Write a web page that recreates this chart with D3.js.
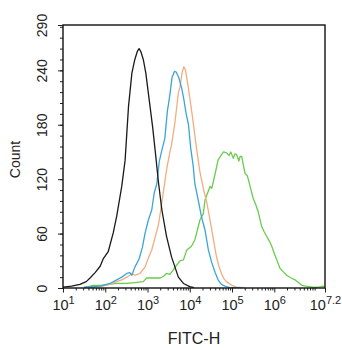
<!DOCTYPE html>
<html>
<head>
<meta charset="utf-8">
<script src="https://cdn.jsdelivr.net/npm/d3@7"></script>
<style>
  body { margin: 0; background: #fff; }
  text { font-family: "Liberation Sans", Arial, sans-serif; fill: #222; }
</style>
</head>
<body>
<script>
"use strict"
// histogram overlays, x = log10 of FITC-H, y = count
const blackSeries = [[1.0,1],[1.2,2],[1.4,4],[1.55,7],[1.64,11],[1.76,17],[1.88,24],[1.95,32],[2.07,40],[2.19,61],[2.27,79],[2.39,112],[2.47,141],[2.55,200],[2.63,237],[2.70,252],[2.76,261],[2.80,264],[2.84,261],[2.90,252],[2.96,237],[3.06,200],[3.12,178],[3.18,152],[3.26,116],[3.34,86],[3.45,57],[3.57,34],[3.65,23],[3.73,12],[3.85,5],[4.0,1.5],[4.1,0.5]];
const cyanSeries = [[1.5,1],[1.64,1.4],[1.88,2],[2.11,5],[2.27,9],[2.39,12],[2.51,16],[2.58,17],[2.63,14],[2.70,23],[2.80,32],[2.88,45],[2.94,60],[3.02,75],[3.10,86],[3.16,105],[3.22,115],[3.28,140],[3.34,152],[3.41,165],[3.47,195],[3.52,210],[3.58,232],[3.64,239],[3.68,238],[3.74,232],[3.81,220],[3.86,208],[3.91,193],[3.97,180],[4.02,155],[4.08,135],[4.12,115],[4.20,97],[4.28,78],[4.36,64],[4.44,42],[4.52,28],[4.60,17],[4.67,9],[4.75,4],[4.83,2],[4.95,0.5],[5.2,0.3]];
const orangeSeries = [[1.6,0.5],[1.88,1.5],[2.11,4],[2.27,7],[2.39,9],[2.51,12],[2.58,14],[2.63,16],[2.70,14],[2.82,16],[2.94,23],[3.02,33],[3.10,42],[3.18,56],[3.26,70],[3.32,88],[3.37,104],[3.45,130],[3.53,150],[3.57,158],[3.65,183],[3.73,215],[3.77,222],[3.82,238],[3.86,244],[3.90,240],[3.97,220],[4.03,200],[4.08,183],[4.16,154],[4.24,128],[4.32,110],[4.40,95],[4.46,80],[4.52,64],[4.58,48],[4.63,35],[4.69,24],[4.75,16],[4.81,10],[4.87,7],[4.99,3],[5.11,1],[5.3,0.5]];
const greenSeries = [[1.5,0.5],[1.72,3],[1.9,3],[2.1,4],[2.27,5],[2.51,5],[2.7,6],[2.90,7],[2.98,11],[3.06,11],[3.22,11],[3.30,11],[3.38,13],[3.45,16],[3.53,15],[3.61,20],[3.65,23],[3.77,30],[3.85,31],[3.93,42],[4.04,46],[4.12,53],[4.24,75],[4.32,82],[4.36,97],[4.48,112],[4.52,110],[4.60,126],[4.67,141],[4.75,147],[4.80,150],[4.87,149],[4.93,146],[4.97,150],[5.03,143],[5.07,148],[5.11,147],[5.16,140],[5.19,145],[5.23,145],[5.27,135],[5.31,126],[5.36,124],[5.39,119],[5.45,108],[5.50,99],[5.56,92],[5.62,84],[5.66,76],[5.70,68],[5.76,62],[5.82,57],[5.88,52],[5.94,46],[6.00,38],[6.06,31],[6.13,22],[6.21,18],[6.29,14],[6.40,11],[6.49,9],[6.57,6],[6.65,3],[6.75,2],[6.84,1.4],[6.95,0.8],[7.05,1],[7.15,2],[7.2,1]];

const xTickExps = ['1', '2', '3', '4', '5', '6', '7.2'];
const yTicks = [0, 60, 120, 180, 240, 290];
const xLabel = 'FITC-H';
const yLabel = 'Count';

const w = 342, h = 350;
const mLeft = 63, mRight = 325, mTop = 25, mBottom = 288;

const svg = d3.select('body').append('svg')
	.attr('width', w)
	.attr('height', h);

const xScale = d3.scaleLog()
	.domain([10, Math.pow(10, 7.2)])
	.range([mLeft, mRight]);
const yScale = d3.scaleLinear()
	.domain([0, 290])
	.range([mBottom, mTop]);

svg.append('clipPath').attr('id', 'plot')
	.append('rect')
	.attr('x', mLeft).attr('y', mTop)
	.attr('width', mRight - mLeft).attr('height', mBottom - mTop);

const line = d3.line()
	.x(d => xScale(Math.pow(10, d[0])))
	.y(d => yScale(d[1]));

const series = [
	[greenSeries, '#6acb4e'],
	[orangeSeries, '#f2ad80'],
	[cyanSeries, '#3aa6d6'],
	[blackSeries, '#1a1a1a']
];

svg.selectAll('path.curve')
	.data(series)
	.enter()
	.append('path')
	.attr('class', 'curve')
	.attr('clip-path', 'url(#plot)')
	.attr('d', d => line(d[0]))
	.attr('fill', 'none')
	.attr('stroke', d => d[1])
	.attr('stroke-width', 1.3)
	.attr('stroke-linejoin', 'round');

// minor x ticks (2..9 per decade)
const minorX = [];
for (let e = 1; e < 7.2; e++) {
	for (let m = 2; m <= 9; m++) {
		const v = m * Math.pow(10, e);
		if (v < Math.pow(10, 7.2)) minorX.push(v);
	}
}
const xMinorAxis = d3.axisBottom(xScale)
	.tickValues(minorX)
	.tickSize(2.5)
	.tickFormat('');
svg.append('g')
	.attr('transform', 'translate(0,' + mBottom + ')')
	.call(xMinorAxis)
	.call(g => g.select('.domain').remove());

const xAxis = d3.axisBottom(xScale)
	.tickValues(xTickExps.map(e => Math.pow(10, +e)))
	.tickSize(4.5)
	.tickFormat('');
const gx = svg.append('g')
	.attr('transform', 'translate(0,' + mBottom + ')')
	.call(xAxis);
gx.select('.domain').remove();

gx.selectAll('.tick')
	.append('text')
	.attr('y', 22)
	.attr('text-anchor', 'middle')
	.style('font-size', '14.5px')
	.each(function (d, i) {
		const t = d3.select(this);
		t.append('tspan').text('10');
		t.append('tspan')
			.attr('dy', -6)
			.style('font-size', '11px')
			.text(xTickExps[i]);
	});

// minor y ticks
const yMinorAxis = d3.axisLeft(yScale)
	.tickValues(d3.range(0, 290, 12))
	.tickSize(3)
	.tickFormat('');
svg.append('g')
	.attr('transform', 'translate(' + mLeft + ',0)')
	.call(yMinorAxis)
	.call(g => g.select('.domain').remove());

const yAxis = d3.axisLeft(yScale)
	.tickValues(yTicks)
	.tickSize(5)
	.tickFormat('');
const gy = svg.append('g')
	.attr('transform', 'translate(' + mLeft + ',0)')
	.call(yAxis);
gy.select('.domain').remove();

gy.selectAll('.tick')
	.append('text')
	.attr('transform', 'translate(-16,0) rotate(-90)')
	.attr('text-anchor', 'middle')
	.style('font-size', '14px')
	.text(d => d);

svg.selectAll('.tick line')
	.attr('stroke', '#222')
	.attr('stroke-width', 1);

// frame
svg.append('rect')
	.attr('x', mLeft).attr('y', mTop)
	.attr('width', mRight - mLeft).attr('height', mBottom - mTop)
	.attr('fill', 'none')
	.attr('stroke', '#111')
	.attr('stroke-width', 1.4);

svg.append('text')
	.attr('x', (mLeft + mRight) / 2)
	.attr('y', 344)
	.attr('text-anchor', 'middle')
	.style('font-size', '16px')
	.text(xLabel);

svg.append('text')
	.attr('transform', 'translate(20,' + ((mTop + mBottom) / 2 + 3) + ') rotate(-90)')
	.attr('text-anchor', 'middle')
	.style('font-size', '14px')
	.text(yLabel);
</script>
</body>
</html>
